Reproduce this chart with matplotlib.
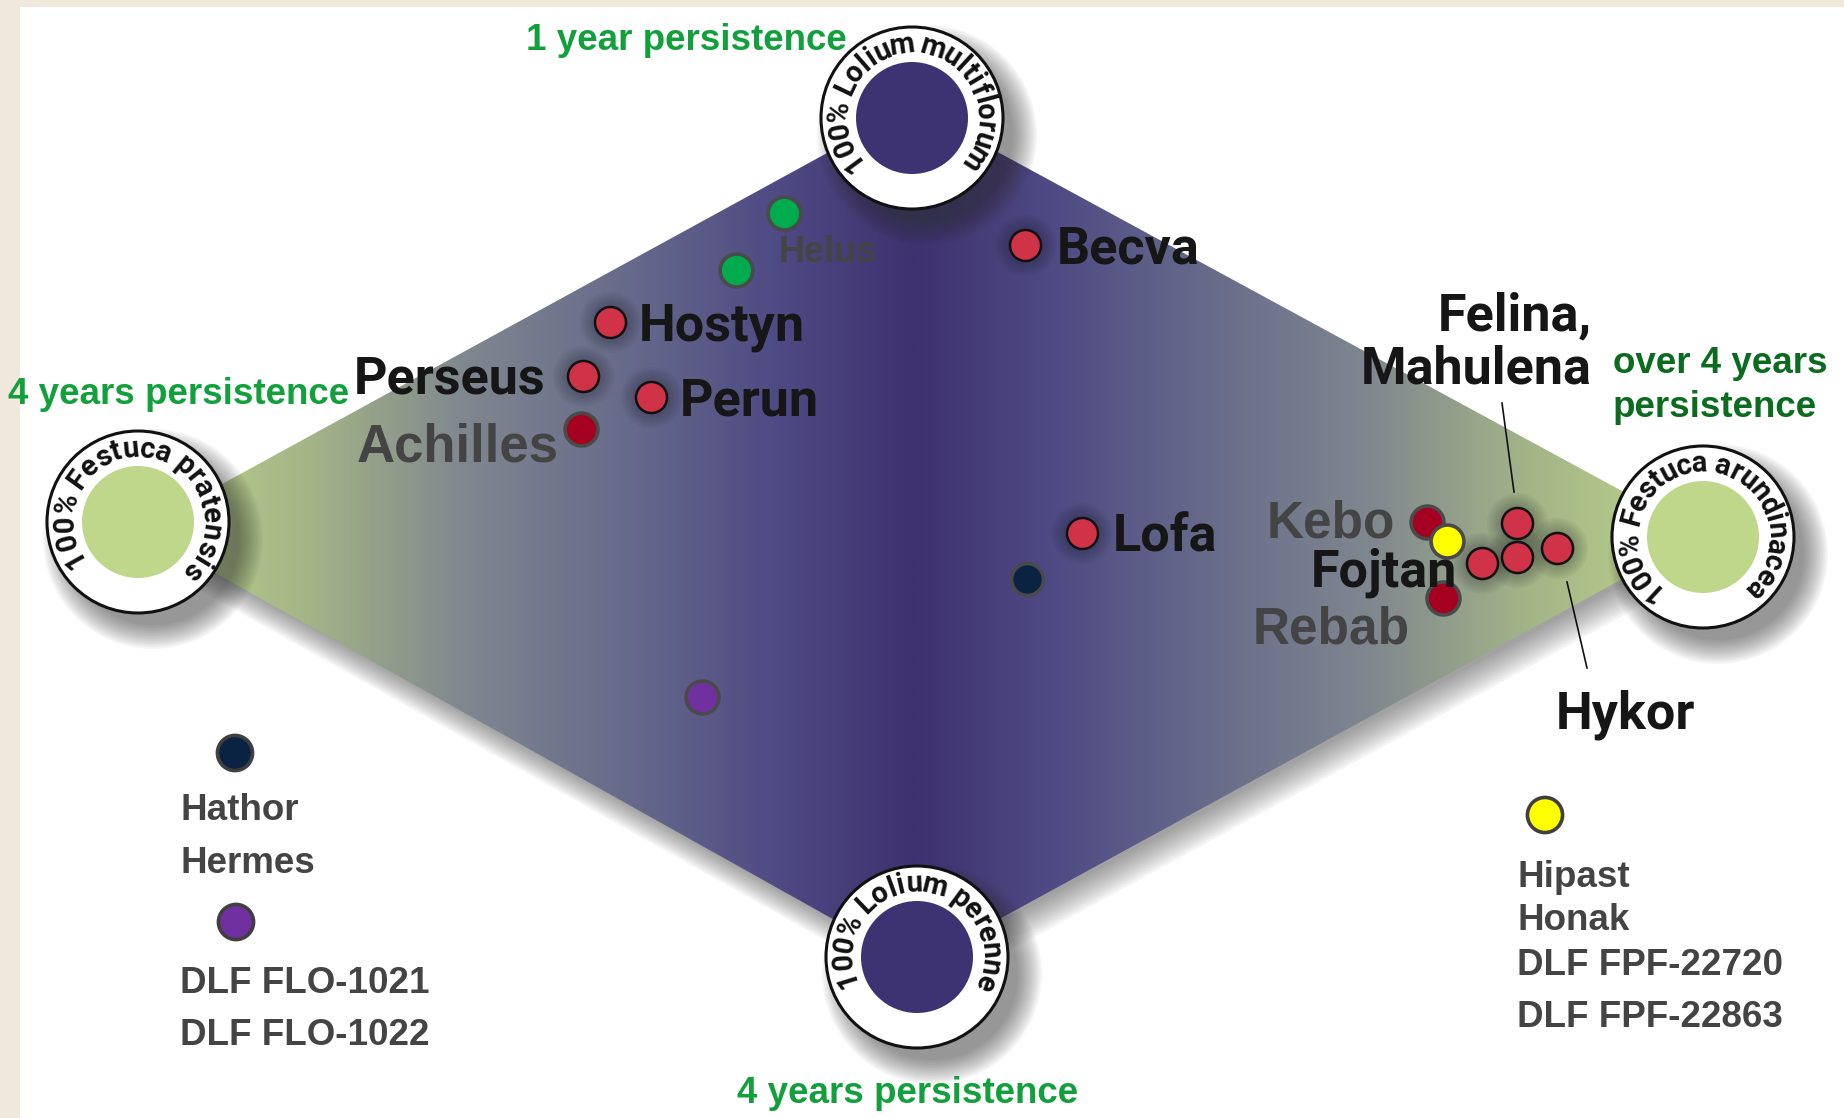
import numpy as np
import matplotlib.pyplot as plt
from matplotlib.patches import Polygon, Circle, Rectangle
from matplotlib.colors import LinearSegmentedColormap
from matplotlib.font_manager import FontProperties
from matplotlib.textpath import TextToPath

W, H = 1844, 1118

# diamond corners (left, top, right, bottom) in picture pixels
corner_x = [138, 913, 1703, 915]
corner_y = [530, 106, 535, 965]

# the four pure-species circles
circle_names = ["100% Festuca pratensis", "100% Lolium multiflorum",
                "100% Festuca arundinacea", "100% Lolium perenne"]
circle_x = [138, 912, 1703, 917]
circle_y = [522, 118, 537, 957]
circle_fill = ["#bfd78a", "#3d3372", "#bfd78a", "#3d3372"]
circle_span = [264, 266, 286, 232]
circle_mid = [84, 90, 91, 88]

# cultivar dots
red_x = [1025, 610, 583, 651, 1082, 1517, 1482, 1517, 1557]
red_y = [245, 322, 376, 397, 533, 523, 563, 557, 548]
darkred_x = [581, 1427, 1443]
darkred_y = [429, 522, 598]
green_x = [784, 736]
green_y = [213, 270]
yellow_x = [1447]
yellow_y = [541]
navy_x = [1027]
navy_y = [579]
purple_x = [702]
purple_y = [697]

# legend dots
legend_x = [235, 236, 1545]
legend_y = [753, 922, 815]
legend_c = ["#0b2342", "#7030a0", "#ffff00"]

din_labels = [("Becva", 1057, 263, "left"), ("Hostyn", 639, 340, "left"),
              ("Perseus", 545, 393, "right"), ("Perun", 680, 415, "left"),
              ("Lofa", 1113, 552, "left"), ("Fojtan", 1311, 587, "left"),
              ("Felina,", 1592, 330, "right"), ("Mahulena", 1592, 383, "right"),
              ("Hykor", 1556, 729, "left")]
grey_labels = [("Achilles", 559, 462, "right", 38), ("Kebo", 1395, 537, "right", 37),
               ("Rebab", 1410, 643, "right", 37), ("Helus", 779, 262, "left", 26)]
legend_left = ["Hathor", "Hermes", "DLF FLO-1021", "DLF FLO-1022"]
legend_left_y = [820, 873, 993, 1045]
legend_right = ["Hipast", "Honak", "DLF FPF-22720", "DLF FPF-22863"]
legend_right_y = [887, 930, 975, 1027]

fig = plt.figure(figsize=(W / 100, H / 100), dpi=100, facecolor="white")
ax = fig.add_axes([0, 0, 1, 1])
ax.set_xlim(0, W)
ax.set_ylim(H, 0)
ax.axis("off")

ax.add_patch(Rectangle((0, 0), 20, H, color="#f1e8dc", lw=0, zorder=0))
ax.add_patch(Rectangle((0, 0), W, 7, color="#f1e8dc", lw=0, zorder=0))

corners = np.column_stack([corner_x, corner_y])

# soft shadow under the diamond
for k in range(12):
    ax.add_patch(Polygon(corners + [4 + k * 0.6, 3 + k * 2.6], closed=True,
                         color="#404040", alpha=0.05, lw=0, zorder=0.2))

# horizontal gradient: green at the Festuca corners, purple in the middle
cmap = LinearSegmentedColormap.from_list("persist", [
    (0.0, "#bed88c"), (0.22, "#a3b487"), (0.42, "#80878f"),
    (0.62, "#686c8b"), (0.82, "#4f4b84"), (1.0, "#3e326f")])
gx = np.linspace(0, W, 900)
t = np.where(gx < corner_x[1], (gx - corner_x[0]) / (corner_x[1] - corner_x[0]),
             (corner_x[2] - gx) / (corner_x[2] - corner_x[1]))
t = np.clip(t, 0, 1)
diamond = Polygon(corners, closed=True, facecolor="none", lw=0, transform=ax.transData)
ax.add_patch(diamond)
im = ax.imshow(t[None, :], extent=(0, W, H, 0), cmap=cmap, vmin=0, vmax=1,
               aspect="auto", interpolation="bilinear", zorder=0.5)
im.set_clip_path(diamond)

# circles with shadows and text running round the ring
ttp = TextToPath()
for name, cx, cy, fc, span, mid in zip(circle_names, circle_x, circle_y,
                                       circle_fill, circle_span, circle_mid):
    for k in range(16):
        ax.add_patch(Circle((cx + 15, cy + 17), 110 - k * 1.6, color="#303030",
                            alpha=0.04, lw=0, zorder=1))
    ax.add_patch(Circle((cx, cy), 91, facecolor="white", edgecolor="#111111",
                        lw=2.2, zorder=1.1))
    ax.add_patch(Circle((cx, cy), 56, color=fc, lw=0, zorder=1.2))

    fs = 21
    fp = FontProperties(family="Roboto", weight="bold", size=fs)
    widths = []
    for ch in name:
        if ch == " ":
            widths.append(fs * 0.3)
        else:
            widths.append(ttp.get_text_width_height_descent(ch, fp, ismath=False)[0] + fs * 0.1)
    widths = np.array(widths)
    centers = np.cumsum(widths) - widths / 2
    frac = centers / widths.sum()
    ang = mid + span / 2 - span * frac
    for ch, a in zip(name, ang):
        if ch == " ":
            continue
        r = 73
        ax.text(cx + r * np.cos(np.radians(a)), cy - r * np.sin(np.radians(a)), ch,
                fontproperties=fp, color="#111111", ha="center", va="center",
                rotation=a - 90, rotation_mode="anchor", zorder=1.3)

# glow behind the bright red dots
for k in range(7):
    ax.scatter(red_x, red_y, s=(25 + k * 3.2) ** 2, color="#151520", alpha=0.045,
               lw=0, zorder=3)

ax.scatter(red_x, red_y, s=500, color="#d03248", edgecolor="#111111", lw=1.8, zorder=4)
ax.scatter(darkred_x, darkred_y, s=560, color="#a5001f", edgecolor="#4a4a4a", lw=2.6, zorder=4)
ax.scatter(green_x, green_y, s=560, color="#00ab4e", edgecolor="#4a4a4a", lw=2.6, zorder=4)
ax.scatter(yellow_x, yellow_y, s=560, color="#ffff00", edgecolor="#4a4a4a", lw=2.6, zorder=5)
ax.scatter(navy_x, navy_y, s=520, color="#0b2342", edgecolor="#4a4a4a", lw=2.4, zorder=4)
ax.scatter(purple_x, purple_y, s=560, color="#7030a0", edgecolor="#4a4a4a", lw=2.6, zorder=4)
ax.scatter(legend_x, legend_y, s=640, color=legend_c, edgecolor="#3f3f3f", lw=2.6, zorder=4)

# leader lines
ax.plot([1502, 1514], [403, 492], color="#111111", lw=1.2, zorder=3)
ax.plot([1567, 1587], [582, 668], color="#111111", lw=1.2, zorder=3)

for s, x, y, ha in din_labels:
    ax.text(x, y, s, family="Roboto", weight="bold", fontsize=37.5, color="#161616",
            ha=ha, va="baseline", zorder=6)
for s, x, y, ha, fs in grey_labels:
    ax.text(x, y, s, family="Liberation Sans", weight="bold", fontsize=fs,
            color="#444444", ha=ha, va="baseline", zorder=6)

for s, y in zip(legend_left, legend_left_y):
    ax.text(180, y, s, family="Liberation Sans", weight="bold", fontsize=26.5,
            color="#444444", ha="left", va="baseline")
for s, y in zip(legend_right, legend_right_y):
    ax.text(1517, y, s, family="Liberation Sans", weight="bold", fontsize=26.5,
            color="#444444", ha="left", va="baseline")

green = "#12a03c"
ax.text(526, 50, "1 year persistence", family="Liberation Sans", weight="bold",
        fontsize=26.5, color=green, ha="left", va="baseline")
ax.text(8, 404, "4 years persistence", family="Liberation Sans", weight="bold",
        fontsize=26.5, color=green, ha="left", va="baseline")
ax.text(908, 1103, "4 years persistence", family="Liberation Sans", weight="bold",
        fontsize=26.5, color=green, ha="center", va="baseline")
ax.text(1613, 373, "over 4 years", family="Liberation Sans", weight="bold",
        fontsize=26.5, color="#0b6b1f", ha="left", va="baseline")
ax.text(1613, 417, "persistence", family="Liberation Sans", weight="bold",
        fontsize=26.5, color="#0b6b1f", ha="left", va="baseline")

fig.savefig("out.png", dpi=100, facecolor="white")
